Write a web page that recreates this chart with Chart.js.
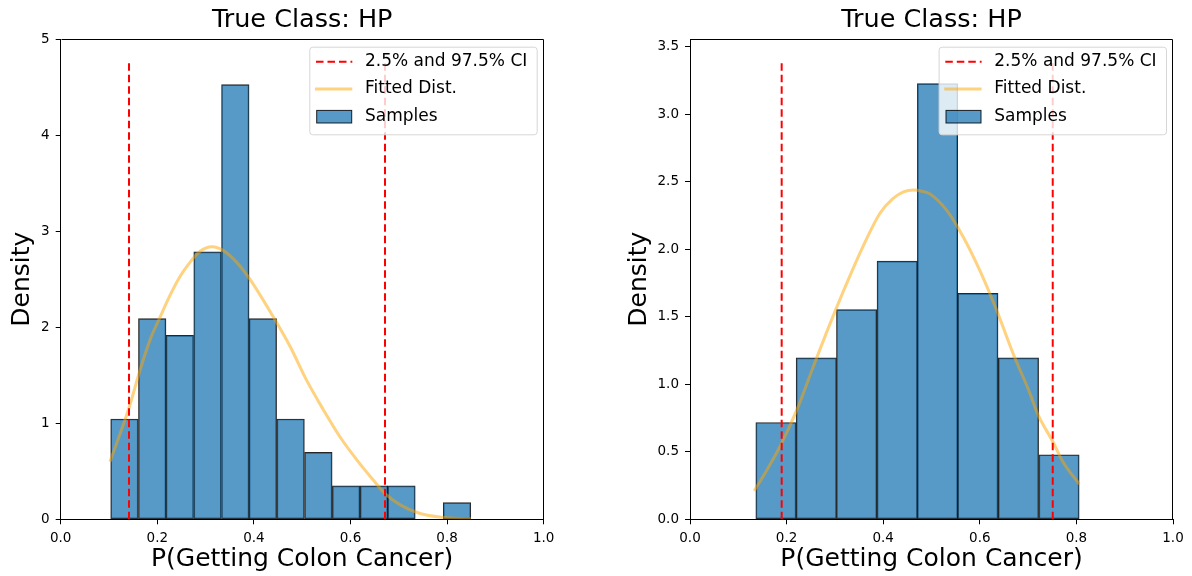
<!DOCTYPE html>
<html><head><meta charset="utf-8">
<script src="https://cdn.jsdelivr.net/npm/chart.js@4.4.1/dist/chart.umd.min.js"></script>
<style>
html,body{margin:0;padding:0;background:#fff;}
#wrap{position:relative;width:1192px;height:576px;overflow:hidden;}
.c{position:absolute;top:0;width:596px;height:576px;}
</style></head><body>
<div id="wrap">
<div class="c" style="left:0"><canvas id="chartA" width="596" height="576"></canvas></div>
<div class="c" style="left:596px"><canvas id="chartB" width="596" height="576"></canvas></div>
</div>
<script>
// ---------- text ----------
const TITLE = 'True Class: HP';
const X_LABEL = 'P(Getting Colon Cancer)';
const Y_LABEL = 'Density';
const LEGEND_LABELS = ['2.5% and 97.5% CI', 'Fitted Dist.', 'Samples'];
const X_TICKS = [0, 0.2, 0.4, 0.6, 0.8, 1.0];

// ---------- left panel ----------
const aBinEdges = [0.103, 0.161, 0.218, 0.275, 0.333, 0.390, 0.447, 0.505, 0.562, 0.620, 0.677, 0.734, 0.792, 0.849];
const aDensity  = [1.045, 2.091, 1.916, 2.787, 4.530, 2.091, 1.045, 0.697, 0.348, 0.348, 0.348, 0, 0.174];
const aFitX = [0.102, 0.142, 0.164, 0.185, 0.206, 0.226, 0.247, 0.268, 0.288, 0.313, 0.337, 0.364, 0.392, 0.440, 0.475, 0.509, 0.544, 0.578, 0.613, 0.647, 0.671, 0.703, 0.744, 0.790, 0.849];
const aFitY = [0.60, 1.17, 1.55, 1.87, 2.11, 2.33, 2.53, 2.68, 2.79, 2.84, 2.80, 2.68, 2.50, 2.11, 1.80, 1.45, 1.14, 0.86, 0.62, 0.41, 0.27, 0.15, 0.06, 0.02, 0.005];
const aCI = [0.1414, 0.6714];
const aCITop = 4.767;
const aYMax = 5.005;
const aYTicks = [0, 1, 2, 3, 4, 5];

// ---------- right panel ----------
const bBinEdges = [0.136, 0.220, 0.303, 0.387, 0.471, 0.554, 0.638, 0.722, 0.806];
const bDensity  = [0.717, 1.195, 1.553, 1.912, 3.226, 1.673, 1.195, 0.478];
const bFitX = [0.133, 0.159, 0.186, 0.221, 0.255, 0.290, 0.324, 0.359, 0.393, 0.420, 0.442, 0.462, 0.480, 0.497, 0.532, 0.566, 0.600, 0.635, 0.669, 0.704, 0.719, 0.751, 0.773, 0.806];
const bFitY = [0.211, 0.364, 0.537, 0.808, 1.128, 1.449, 1.744, 2.027, 2.265, 2.375, 2.425, 2.439, 2.430, 2.409, 2.286, 2.089, 1.843, 1.547, 1.227, 0.931, 0.786, 0.576, 0.42, 0.261];
const bCI = [0.1898, 0.751];
const bCITop = 3.387;
const bYMax = 3.557;
const bYTicks = [0, 0.5, 1.0, 1.5, 2.0, 2.5, 3.0, 3.5];

// ---------- styles ----------
const FONT = "'DejaVu Sans', 'Liberation Sans', sans-serif";
const BAR_FILL = 'rgba(31,119,180,0.75)';
const BAR_EDGE = 'rgba(0,0,0,0.85)';
const FIT_COLOR = 'rgba(255,165,0,0.5)';
const CI_COLOR = '#ff0000';
const CI_DASH = [7.5, 4];

const framePlugin = {
  id: 'frame',
  afterDatasetsDraw(chart) {
    const {ctx, chartArea: a} = chart;
    ctx.save();
    ctx.strokeStyle = '#000';
    ctx.lineWidth = 1;
    ctx.beginPath();
    ctx.moveTo(Math.round(a.left) + 0.5, Math.round(a.top) + 0.5);
    ctx.lineTo(Math.round(a.right) - 0.5, Math.round(a.top) + 0.5);
    ctx.lineTo(Math.round(a.right) - 0.5, Math.round(a.bottom));
    ctx.stroke();
    ctx.restore();
  }
};

const legendPlugin = {
  id: 'innerLegend',
  afterDraw(chart) {
    const {ctx, chartArea: a} = chart;
    const w = 227.4, h = 87.6;
    const L = a.right - 7 - w, T = a.top + 7.7;
    ctx.save();
    ctx.beginPath();
    ctx.roundRect(L + 0.5, T + 0.5, w, h, 3);
    ctx.fillStyle = 'rgba(255,255,255,0.8)';
    ctx.fill();
    ctx.strokeStyle = '#d6d6d6';
    ctx.lineWidth = 1;
    ctx.stroke();
    const rows = [T + 15, T + 42.3, T + 70];
    ctx.beginPath();
    ctx.setLineDash(CI_DASH);
    ctx.strokeStyle = CI_COLOR; ctx.lineWidth = 2;
    ctx.moveTo(L + 6.7, rows[0]); ctx.lineTo(L + 43, rows[0]);
    ctx.stroke();
    ctx.setLineDash([]);
    ctx.beginPath();
    ctx.strokeStyle = FIT_COLOR; ctx.lineWidth = 3;
    ctx.moveTo(L + 5.7, rows[1]); ctx.lineTo(L + 43, rows[1]);
    ctx.stroke();
    ctx.fillStyle = BAR_FILL;
    ctx.fillRect(L + 7.4, rows[2] - 6.3, 35, 12.6);
    ctx.strokeStyle = BAR_EDGE; ctx.lineWidth = 1;
    ctx.strokeRect(L + 7.4, rows[2] - 6.3, 35, 12.6);
    ctx.fillStyle = '#000';
    ctx.font = '17px ' + FONT;
    ctx.textBaseline = 'middle';
    ctx.textAlign = 'left';
    LEGEND_LABELS.forEach((t, i) => ctx.fillText(t, L + 55.7, rows[i]));
    ctx.restore();
  }
};

function makeChart(id, p) {
  const centers = p.density.map((_, i) => (p.edges[i] + p.edges[i + 1]) / 2);
  const barData = p.density.map((v, i) => ({x: centers[i], y: v}));
  const fitData = p.fitX.map((x, i) => ({x: x, y: p.fitY[i]}));
  const ciSets = p.ci.map((c, i) => ({
    type: 'line', label: i === 0 ? LEGEND_LABELS[0] : '',
    data: [{x: c, y: 0}, {x: c, y: p.ciTop}],
    borderColor: CI_COLOR, borderWidth: 2, borderDash: CI_DASH,
    pointRadius: 0, fill: false, order: 1, borderCapStyle: 'butt'
  }));
  return new Chart(document.getElementById(id), {
    type: 'bar',
    data: {
      datasets: [
        {
          type: 'bar', label: LEGEND_LABELS[2], data: barData,
          backgroundColor: BAR_FILL, borderColor: BAR_EDGE, borderWidth: 1,
          borderSkipped: false, barPercentage: 1, categoryPercentage: 1, order: 3
        },
        {
          type: 'line', label: LEGEND_LABELS[1], data: fitData,
          borderColor: FIT_COLOR, borderWidth: 3, pointRadius: 0, fill: false,
          cubicInterpolationMode: 'monotone', order: 2
        },
        ...ciSets
      ]
    },
    options: {
      responsive: false, animation: false, devicePixelRatio: 1, events: [],
      layout: {padding: {left: 0, right: p.padRight, top: 0, bottom: 0}},
      plugins: {
        legend: {display: false}, tooltip: {enabled: false},
        title: {
          display: true, text: TITLE, fullSize: false, color: '#000',
          font: {family: FONT, size: 25.5, weight: 'normal'},
          padding: {top: 5.2, bottom: 3.2}
        }
      },
      scales: {
        x: {
          type: 'linear', min: 0, max: 1, offset: false,
          afterBuildTicks: s => { s.ticks = X_TICKS.map(v => ({value: v})); },
          afterFit: s => { s.height = 56.7; },
          ticks: {callback: v => Number(v).toFixed(1), color: '#000', font: {family: FONT, size: 13.5}, padding: 6.5, maxRotation: 0, autoSkip: false},
          grid: {offset: false, drawOnChartArea: false, drawTicks: true, tickLength: 5, tickColor: '#000', tickWidth: 1},
          border: {display: true, color: '#000', width: 1},
          title: {display: true, text: X_LABEL, color: '#000', font: {family: FONT, size: 25}, padding: {top: 0, bottom: 2}}
        },
        y: {
          type: 'linear', min: 0, max: p.yMax,
          afterBuildTicks: s => { s.ticks = p.yTicks.map(v => ({value: v})); },
          afterFit: s => { s.width = p.yWidth; },
          ticks: {callback: v => p.tickFmt(v), color: '#000', font: {family: FONT, size: 13.5}, padding: 6},
          grid: {offset: false, drawOnChartArea: false, drawTicks: true, tickLength: 5, tickColor: '#000', tickWidth: 1},
          border: {display: true, color: '#000', width: 1},
          title: {display: true, text: Y_LABEL, color: '#000', font: {family: FONT, size: 25}, padding: {top: p.yTitlePad, bottom: 0}}
        }
      }
    },
    plugins: [framePlugin, legendPlugin]
  });
}

makeChart('chartA', {
  edges: aBinEdges, density: aDensity, fitX: aFitX, fitY: aFitY,
  ci: aCI, ciTop: aCITop, yMax: aYMax, yTicks: aYTicks,
  tickFmt: v => String(Math.round(v)), yWidth: 60.7, padRight: 52.3, yTitlePad: 7
});
makeChart('chartB', {
  edges: bBinEdges, density: bDensity, fitX: bFitX, fitY: bFitY,
  ci: bCI, ciTop: bCITop, yMax: bYMax, yTicks: bYTicks,
  tickFmt: v => Number(v).toFixed(1), yWidth: 94, padRight: 19, yTitlePad: 28.5
});
</script>
</body></html>
